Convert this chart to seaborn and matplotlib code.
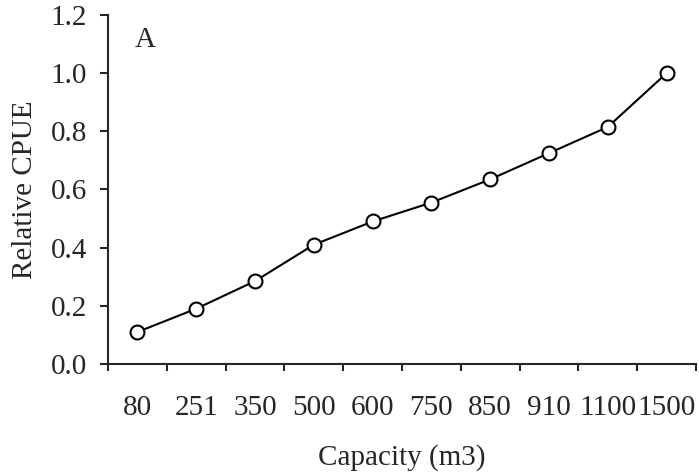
import numpy as np
import pandas as pd
import matplotlib
matplotlib.use("Agg")
import matplotlib.pyplot as plt
from matplotlib.ticker import FormatStrFormatter, FixedLocator
import seaborn as sns

capacity = ["80", "251", "350", "500", "600", "750", "850", "910", "1100", "1500"]
cpue = [0.11, 0.19, 0.285, 0.41, 0.49, 0.555, 0.635, 0.725, 0.815, 1.0]

df = pd.DataFrame({"Capacity": capacity, "CPUE": cpue})

sns.set_style("ticks")
plt.rcParams["font.family"] = ["Liberation Serif", "DejaVu Serif"]
fs = 21

fig = plt.figure(figsize=(6.99, 4.75), dpi=100)
ax = fig.add_axes([108/699, 1-364/475, 588/699, 349/475])

sns.lineplot(data=df, x="Capacity", y="CPUE", ax=ax, sort=False,
             color="black", linewidth=1.5, marker="o", markersize=10,
             markerfacecolor="white", markeredgecolor="black", markeredgewidth=1.5)

ax.set_xlim(-0.5, len(capacity) - 0.5)
ax.set_ylim(0, 1.2)
ax.set_yticks(np.arange(0, 1.21, 0.2))
ax.yaxis.set_major_formatter(FormatStrFormatter("%.1f"))

# Excel style: tick marks between categories, labels at centres
ax.xaxis.set_minor_locator(FixedLocator(np.arange(-0.5, len(capacity), 1.0)))
ax.tick_params(axis="x", which="major", length=0, pad=22, labelsize=fs)
ax.tick_params(axis="x", which="minor", length=5, width=1.5, direction="out")
ax.tick_params(axis="y", length=6, width=1.5, direction="out", pad=9, labelsize=fs)

for s in ["top", "right"]:
    ax.spines[s].set_visible(False)
for s in ["left", "bottom"]:
    ax.spines[s].set_linewidth(1.5)

ax.set_xlabel("Capacity (m3)", fontsize=fs, labelpad=17)
ax.set_ylabel("Relative CPUE", fontsize=fs, labelpad=9)
ax.text(0.063, 0.928, "A", transform=ax.transAxes, ha="center", va="center", fontsize=fs)

fig.savefig("out.png", dpi=100)
